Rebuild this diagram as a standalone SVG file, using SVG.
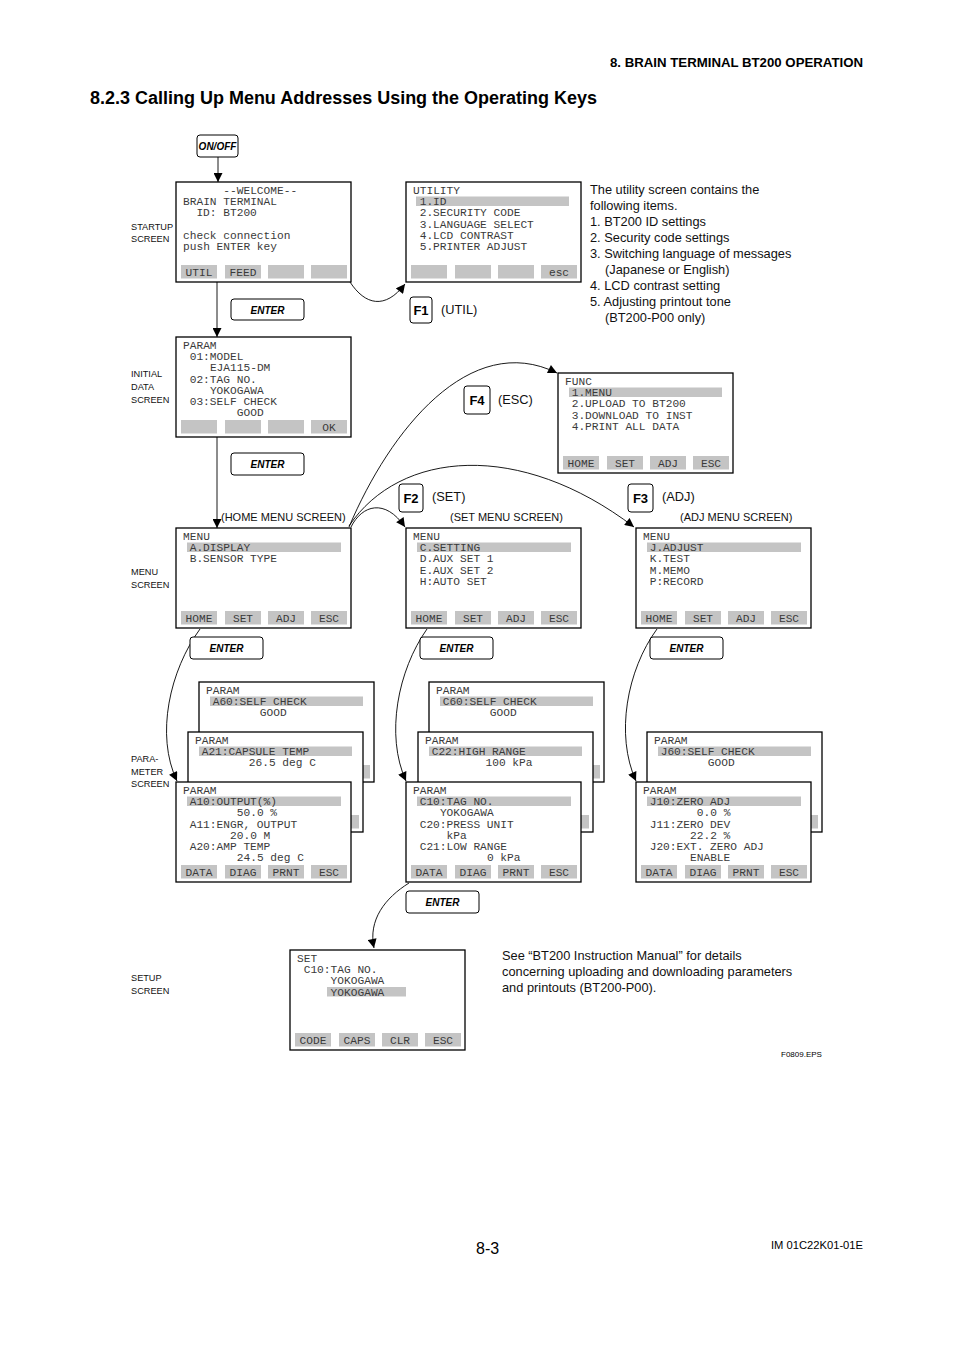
<svg xmlns="http://www.w3.org/2000/svg" width="954" height="1351" viewBox="0 0 954 1351" xml:space="preserve">
<defs>
<style>
.scr{fill:#fff;stroke:#000;stroke-width:1.3}
.key,.hl{fill:#c4c4c4}
.m{font-family:"Liberation Mono","DejaVu Sans Mono",monospace;font-size:11.2px;fill:#3a3a3a}
.kt{text-anchor:middle}
.lbl{font-family:"Liberation Sans",Arial,sans-serif;font-size:9.2px;fill:#111}
.sl{font-family:"Liberation Sans",Arial,sans-serif;font-size:11px;fill:#111}
.tx{font-family:"Liberation Sans",Arial,sans-serif;font-size:12.8px;fill:#111}
.btn{fill:#fff;stroke:#000;stroke-width:1}
.bt{font-family:"Liberation Sans",Arial,sans-serif;font-weight:bold;font-style:italic;font-size:10px;text-anchor:middle;fill:#000}
.fk{font-family:"Liberation Sans",Arial,sans-serif;font-weight:bold;font-size:13px;text-anchor:middle;fill:#000}
.conn path,.conn line{fill:none;stroke:#000;stroke-width:0.9}
</style>
<marker id="ah" viewBox="0 0 10 10" refX="10" refY="5" markerWidth="11" markerHeight="9" markerUnits="userSpaceOnUse" orient="auto"><path d="M0,0 L10,5 L0,10 z" fill="#000"/></marker>
</defs>
<rect width="954" height="1351" fill="#fff"/>

<!-- header / titles -->
<text x="610" y="67" font-family="Liberation Sans,Arial,sans-serif" font-weight="bold" font-size="12.5" textLength="253" lengthAdjust="spacingAndGlyphs">8.  BRAIN TERMINAL BT200 OPERATION</text>
<text x="90" y="104" font-family="Liberation Sans,Arial,sans-serif" font-weight="bold" font-size="18" textLength="507" lengthAdjust="spacingAndGlyphs">8.2.3 Calling Up Menu Addresses Using the Operating Keys</text>
<text x="476" y="1254" font-family="Liberation Sans,Arial,sans-serif" font-size="16">8-3</text>
<text x="771" y="1249" font-family="Liberation Sans,Arial,sans-serif" font-size="11" textLength="92" lengthAdjust="spacingAndGlyphs">IM 01C22K01-01E</text>
<text x="781" y="1057" font-family="Liberation Sans,Arial,sans-serif" font-size="8">F0809.EPS</text>

<!-- side labels -->
<g id="labels">
<text class="lbl" x="131" y="229.5">STARTUP</text><text class="lbl" x="131" y="241.5">SCREEN</text>
<text class="lbl" x="131" y="376.5">INITIAL</text><text class="lbl" x="131" y="389.5">DATA</text><text class="lbl" x="131" y="402.5">SCREEN</text>
<text class="lbl" x="131" y="574.5">MENU</text><text class="lbl" x="131" y="587.5">SCREEN</text>
<text class="lbl" x="131" y="761.5">PARA-</text><text class="lbl" x="131" y="774.5">METER</text><text class="lbl" x="131" y="786.5">SCREEN</text>
<text class="lbl" x="131" y="980.5">SETUP</text><text class="lbl" x="131" y="993.5">SCREEN</text>
<text class="sl" x="221" y="521">(HOME MENU SCREEN)</text>
<text class="sl" x="450" y="521">(SET MENU SCREEN)</text>
<text class="sl" x="680" y="521">(ADJ MENU SCREEN)</text>
</g>

<g id="utilnote">
<text class="tx" x="590" y="193.5">The utility screen contains the</text>
<text class="tx" x="590" y="209.5">following items.</text>
<text class="tx" x="590" y="225.5">1. BT200 ID settings</text>
<text class="tx" x="590" y="241.5">2. Security code settings</text>
<text class="tx" x="590" y="257.5">3. Switching language of messages</text>
<text class="tx" x="605" y="273.5">(Japanese or English)</text>
<text class="tx" x="590" y="289.5">4. LCD contrast setting</text>
<text class="tx" x="590" y="305.5">5. Adjusting printout tone</text>
<text class="tx" x="605" y="321.5">(BT200-P00  only)</text>
</g>
<g id="setnote">
<text class="tx" x="502" y="959.5">See “BT200 Instruction Manual” for details</text>
<text class="tx" x="502" y="975.5">concerning uploading and downloading parameters</text>
<text class="tx" x="502" y="991.5">and printouts (BT200-P00).</text>
</g>

<!-- connectors -->
<g class="conn" id="connectors">
<line x1="218" y1="157" x2="218" y2="182" marker-end="url(#ah)"/>
<line x1="217" y1="282" x2="217" y2="337" marker-end="url(#ah)"/>
<line x1="217" y1="437" x2="217" y2="528" marker-end="url(#ah)"/>
<path d="M350 282 C365 305 385 310 405 284" marker-end="url(#ah)"/>
<path d="M349 527 C390 430 470 330 557 373" marker-end="url(#ah)"/>
<path d="M349 526 C400 450 520 440 634 527" marker-end="url(#ah)"/>
<path d="M351 527 C362 505 385 498 405 527" marker-end="url(#ah)"/>
<path d="M200 629 C170 670 155 735 177 781" marker-end="url(#ah)"/>
<path d="M427 629 C398 670 385 735 406 781" marker-end="url(#ah)"/>
<path d="M657 629 C627 670 615 735 636 781" marker-end="url(#ah)"/>
<path d="M409 883 C385 898 368 920 374 948" marker-end="url(#ah)"/>
</g>

<!-- buttons -->
<g id="btn-onoff"><rect class="btn" x="197" y="135" width="41" height="22" rx="3"/><text class="bt" x="217.5" y="149.5" font-size="7.5">ON/OFF</text></g>
<g id="btn-enter1"><rect class="btn" x="231" y="299" width="73" height="21" rx="3"/><text class="bt" x="267.5" y="313.5">ENTER</text></g>
<g id="btn-enter2"><rect class="btn" x="231" y="453" width="73" height="22" rx="3"/><text class="bt" x="267.5" y="468">ENTER</text></g>
<g id="btn-enter3"><rect class="btn" x="190" y="637" width="73" height="22" rx="3"/><text class="bt" x="226.5" y="652">ENTER</text></g>
<g id="btn-enter4"><rect class="btn" x="420" y="637" width="73" height="22" rx="3"/><text class="bt" x="456.5" y="652">ENTER</text></g>
<g id="btn-enter5"><rect class="btn" x="650" y="637" width="73" height="22" rx="3"/><text class="bt" x="686.5" y="652">ENTER</text></g>
<g id="btn-enter6"><rect class="btn" x="406" y="891" width="73" height="22" rx="3"/><text class="bt" x="442.5" y="906">ENTER</text></g>
<g id="key-f1"><rect class="btn" x="410" y="297" width="22" height="26" rx="3"/><text class="fk" x="421" y="315">F1</text><text class="tx" x="441" y="314">(UTIL)</text></g>
<g id="key-f4"><rect class="btn" x="464" y="386" width="26" height="28" rx="3"/><text class="fk" x="477" y="405">F4</text><text class="tx" x="498" y="404">(ESC)</text></g>
<g id="key-f2"><rect class="btn" x="399" y="484" width="24" height="28" rx="3"/><text class="fk" x="411" y="503">F2</text><text class="tx" x="432" y="501">(SET)</text></g>
<g id="key-f3"><rect class="btn" x="628" y="484" width="25" height="28" rx="3"/><text class="fk" x="640.5" y="503">F3</text><text class="tx" x="662" y="501">(ADJ)</text></g>

<!-- startup -->
<g id="scr-startup">
<rect class="scr" x="176" y="182" width="175" height="100"/>
<text class="m" x="223.3" y="194">--WELCOME--</text>
<text class="m" x="183" y="205.2">BRAIN TERMINAL</text>
<text class="m" x="196.4" y="216.4">ID:  BT200</text>
<text class="m" x="183" y="238.8">check connection</text>
<text class="m" x="183" y="250">push ENTER key</text>
<rect class="key" x="181" y="265" width="36" height="13.5"/><rect class="key" x="225" y="265" width="36" height="13.5"/><rect class="key" x="268" y="265" width="36" height="13.5"/><rect class="key" x="311" y="265" width="36" height="13.5"/>
<text class="m kt" x="199" y="275.5">UTIL</text><text class="m kt" x="243" y="275.5">FEED</text>
</g>

<!-- utility -->
<g id="scr-utility">
<rect class="scr" x="406" y="182" width="175" height="100"/>
<rect class="hl" x="416" y="196.5" width="153" height="9.5"/>
<text class="m" x="413" y="194">UTILITY</text>
<text class="m" x="419.7" y="205.2">1.ID</text>
<text class="m" x="419.7" y="216.4">2.SECURITY CODE</text>
<text class="m" x="419.7" y="227.6">3.LANGUAGE SELECT</text>
<text class="m" x="419.7" y="238.8">4.LCD CONTRAST</text>
<text class="m" x="419.7" y="250">5.PRINTER ADJUST</text>
<rect class="key" x="411" y="265" width="36" height="13.5"/><rect class="key" x="455" y="265" width="36" height="13.5"/><rect class="key" x="498" y="265" width="36" height="13.5"/><rect class="key" x="541" y="265" width="36" height="13.5"/>
<text class="m kt" x="559" y="275.5">esc</text>
</g>

<!-- initial data -->
<g id="scr-initial">
<rect class="scr" x="176" y="337" width="175" height="100"/>
<text class="m" x="183" y="349">PARAM</text>
<text class="m" x="189.7" y="360.2">01:MODEL</text>
<text class="m" x="209.9" y="371.4">EJA115-DM</text>
<text class="m" x="189.7" y="382.6">02:TAG NO.</text>
<text class="m" x="209.9" y="393.8">YOKOGAWA</text>
<text class="m" x="189.7" y="405">03:SELF CHECK</text>
<text class="m" x="236.8" y="416.2">GOOD</text>
<rect class="key" x="181" y="420" width="36" height="13.5"/><rect class="key" x="225" y="420" width="36" height="13.5"/><rect class="key" x="268" y="420" width="36" height="13.5"/><rect class="key" x="311" y="420" width="36" height="13.5"/>
<text class="m kt" x="329" y="430.5">OK</text>
</g>

<!-- func -->
<g id="scr-func">
<rect class="scr" x="558" y="373" width="175" height="100"/>
<rect class="hl" x="569" y="387.5" width="153" height="9.5"/>
<text class="m" x="565" y="385">FUNC</text>
<text class="m" x="571.7" y="396.2">1.MENU</text>
<text class="m" x="571.7" y="407.4">2.UPLOAD TO BT200</text>
<text class="m" x="571.7" y="418.6">3.DOWNLOAD TO INST</text>
<text class="m" x="571.7" y="429.8">4.PRINT ALL DATA</text>
<rect class="key" x="563" y="456" width="36" height="13.5"/><rect class="key" x="607" y="456" width="36" height="13.5"/><rect class="key" x="650" y="456" width="36" height="13.5"/><rect class="key" x="693" y="456" width="36" height="13.5"/>
<text class="m kt" x="581" y="466.5">HOME</text><text class="m kt" x="625" y="466.5">SET</text><text class="m kt" x="668" y="466.5">ADJ</text><text class="m kt" x="711" y="466.5">ESC</text>
</g>

<!-- home menu -->
<g id="scr-home">
<rect class="scr" x="176" y="528" width="175" height="100"/>
<rect class="hl" x="187" y="542.5" width="154" height="9.5"/>
<text class="m" x="183" y="540">MENU</text>
<text class="m" x="189.7" y="551.2">A.DISPLAY</text>
<text class="m" x="189.7" y="562.4">B.SENSOR TYPE</text>
<rect class="key" x="181" y="611" width="36" height="13.5"/><rect class="key" x="225" y="611" width="36" height="13.5"/><rect class="key" x="268" y="611" width="36" height="13.5"/><rect class="key" x="311" y="611" width="36" height="13.5"/>
<text class="m kt" x="199" y="621.5">HOME</text><text class="m kt" x="243" y="621.5">SET</text><text class="m kt" x="286" y="621.5">ADJ</text><text class="m kt" x="329" y="621.5">ESC</text>
</g>

<!-- set menu -->
<g id="scr-setmenu">
<rect class="scr" x="406" y="528" width="175" height="100"/>
<rect class="hl" x="417" y="542.5" width="154" height="9.5"/>
<text class="m" x="413" y="540">MENU</text>
<text class="m" x="419.7" y="551.2">C.SETTING</text>
<text class="m" x="419.7" y="562.4">D.AUX SET 1</text>
<text class="m" x="419.7" y="573.6">E.AUX SET 2</text>
<text class="m" x="419.7" y="584.8">H:AUTO SET</text>
<rect class="key" x="411" y="611" width="36" height="13.5"/><rect class="key" x="455" y="611" width="36" height="13.5"/><rect class="key" x="498" y="611" width="36" height="13.5"/><rect class="key" x="541" y="611" width="36" height="13.5"/>
<text class="m kt" x="429" y="621.5">HOME</text><text class="m kt" x="473" y="621.5">SET</text><text class="m kt" x="516" y="621.5">ADJ</text><text class="m kt" x="559" y="621.5">ESC</text>
</g>

<!-- adj menu -->
<g id="scr-adjmenu">
<rect class="scr" x="636" y="528" width="175" height="100"/>
<rect class="hl" x="647" y="542.5" width="154" height="9.5"/>
<text class="m" x="643" y="540">MENU</text>
<text class="m" x="649.7" y="551.2">J.ADJUST</text>
<text class="m" x="649.7" y="562.4">K.TEST</text>
<text class="m" x="649.7" y="573.6">M.MEMO</text>
<text class="m" x="649.7" y="584.8">P:RECORD</text>
<rect class="key" x="641" y="611" width="36" height="13.5"/><rect class="key" x="685" y="611" width="36" height="13.5"/><rect class="key" x="728" y="611" width="36" height="13.5"/><rect class="key" x="771" y="611" width="36" height="13.5"/>
<text class="m kt" x="659" y="621.5">HOME</text><text class="m kt" x="703" y="621.5">SET</text><text class="m kt" x="746" y="621.5">ADJ</text><text class="m kt" x="789" y="621.5">ESC</text>
</g>

<!-- left param stack -->
<g id="scr-a60">
<rect class="scr" x="199" y="682" width="175" height="100"/>
<rect class="hl" x="210" y="696.5" width="153" height="9.5"/>
<text class="m" x="206" y="694">PARAM</text>
<text class="m" x="212.7" y="705.2">A60:SELF CHECK</text>
<text class="m" x="259.8" y="716.4">GOOD</text>
<rect class="key" x="334" y="765" width="36" height="13.5"/>
</g>
<g id="scr-a21">
<rect class="scr" x="188" y="732" width="175" height="100"/>
<rect class="hl" x="199" y="746.5" width="153" height="9.5"/>
<text class="m" x="195" y="744">PARAM</text>
<text class="m" x="201.7" y="755.2">A21:CAPSULE TEMP</text>
<text class="m" x="248.8" y="766.4">26.5 deg C</text>
<rect class="key" x="323" y="815" width="36" height="13.5"/>
</g>
<g id="scr-a10">
<rect class="scr" x="176" y="782" width="175" height="100"/>
<rect class="hl" x="187" y="796.5" width="154" height="9.5"/>
<text class="m" x="183" y="794">PARAM</text>
<text class="m" x="189.7" y="805.2">A10:OUTPUT(%)</text>
<text class="m" x="236.8" y="816.4">50.0 %</text>
<text class="m" x="189.7" y="827.6">A11:ENGR, OUTPUT</text>
<text class="m" x="230" y="838.8">20.0 M</text>
<text class="m" x="189.7" y="850">A20:AMP TEMP</text>
<text class="m" x="236.8" y="861.2">24.5 deg C</text>
<rect class="key" x="181" y="865" width="36" height="13.5"/><rect class="key" x="225" y="865" width="36" height="13.5"/><rect class="key" x="268" y="865" width="36" height="13.5"/><rect class="key" x="311" y="865" width="36" height="13.5"/>
<text class="m kt" x="199" y="875.5">DATA</text><text class="m kt" x="243" y="875.5">DIAG</text><text class="m kt" x="286" y="875.5">PRNT</text><text class="m kt" x="329" y="875.5">ESC</text>
</g>

<!-- middle param stack -->
<g id="scr-c60">
<rect class="scr" x="429" y="682" width="175" height="100"/>
<rect class="hl" x="440" y="696.5" width="153" height="9.5"/>
<text class="m" x="436" y="694">PARAM</text>
<text class="m" x="442.7" y="705.2">C60:SELF CHECK</text>
<text class="m" x="489.8" y="716.4">GOOD</text>
<rect class="key" x="564" y="765" width="36" height="13.5"/>
</g>
<g id="scr-c22">
<rect class="scr" x="418" y="732" width="175" height="100"/>
<rect class="hl" x="429" y="746.5" width="153" height="9.5"/>
<text class="m" x="425" y="744">PARAM</text>
<text class="m" x="431.7" y="755.2">C22:HIGH RANGE</text>
<text class="m" x="485.5" y="766.4">100 kPa</text>
<rect class="key" x="553" y="815" width="36" height="13.5"/>
</g>
<g id="scr-c10">
<rect class="scr" x="406" y="782" width="175" height="100"/>
<rect class="hl" x="417" y="796.5" width="154" height="9.5"/>
<text class="m" x="413" y="794">PARAM</text>
<text class="m" x="419.7" y="805.2">C10:TAG NO.</text>
<text class="m" x="439.9" y="816.4">YOKOGAWA</text>
<text class="m" x="419.7" y="827.6">C20:PRESS UNIT</text>
<text class="m" x="446.6" y="838.8">kPa</text>
<text class="m" x="419.7" y="850">C21:LOW RANGE</text>
<text class="m" x="486.9" y="861.2">0 kPa</text>
<rect class="key" x="411" y="865" width="36" height="13.5"/><rect class="key" x="455" y="865" width="36" height="13.5"/><rect class="key" x="498" y="865" width="36" height="13.5"/><rect class="key" x="541" y="865" width="36" height="13.5"/>
<text class="m kt" x="429" y="875.5">DATA</text><text class="m kt" x="473" y="875.5">DIAG</text><text class="m kt" x="516" y="875.5">PRNT</text><text class="m kt" x="559" y="875.5">ESC</text>
</g>

<!-- right param stack -->
<g id="scr-j60">
<rect class="scr" x="647" y="732" width="175" height="100"/>
<rect class="hl" x="658" y="746.5" width="153" height="9.5"/>
<text class="m" x="654" y="744">PARAM</text>
<text class="m" x="660.7" y="755.2">J60:SELF CHECK</text>
<text class="m" x="707.8" y="766.4">GOOD</text>
<rect class="key" x="782" y="815" width="36" height="13.5"/>
</g>
<g id="scr-j10">
<rect class="scr" x="636" y="782" width="175" height="100"/>
<rect class="hl" x="647" y="796.5" width="154" height="9.5"/>
<text class="m" x="643" y="794">PARAM</text>
<text class="m" x="649.7" y="805.2">J10:ZERO ADJ</text>
<text class="m" x="696.8" y="816.4">0.0 %</text>
<text class="m" x="649.7" y="827.6">J11:ZERO DEV</text>
<text class="m" x="690" y="838.8">22.2 %</text>
<text class="m" x="649.7" y="850">J20:EXT. ZERO ADJ</text>
<text class="m" x="690" y="861.2">ENABLE</text>
<rect class="key" x="641" y="865" width="36" height="13.5"/><rect class="key" x="685" y="865" width="36" height="13.5"/><rect class="key" x="728" y="865" width="36" height="13.5"/><rect class="key" x="771" y="865" width="36" height="13.5"/>
<text class="m kt" x="659" y="875.5">DATA</text><text class="m kt" x="703" y="875.5">DIAG</text><text class="m kt" x="746" y="875.5">PRNT</text><text class="m kt" x="789" y="875.5">ESC</text>
</g>

<!-- setup -->
<g id="scr-setup">
<rect class="scr" x="290" y="950" width="175" height="100"/>
<rect class="hl" x="327" y="987" width="79" height="9.5"/>
<text class="m" x="297" y="962">SET</text>
<text class="m" x="303.7" y="973.2">C10:TAG NO.</text>
<text class="m" x="330.6" y="984.4">YOKOGAWA</text>
<text class="m" x="330.6" y="995.6">YOKOGAWA</text>
<rect class="key" x="295" y="1033" width="36" height="13.5"/><rect class="key" x="339" y="1033" width="36" height="13.5"/><rect class="key" x="382" y="1033" width="36" height="13.5"/><rect class="key" x="425" y="1033" width="36" height="13.5"/>
<text class="m kt" x="313" y="1043.5">CODE</text><text class="m kt" x="357" y="1043.5">CAPS</text><text class="m kt" x="400" y="1043.5">CLR</text><text class="m kt" x="443" y="1043.5">ESC</text>
</g>
</svg>
